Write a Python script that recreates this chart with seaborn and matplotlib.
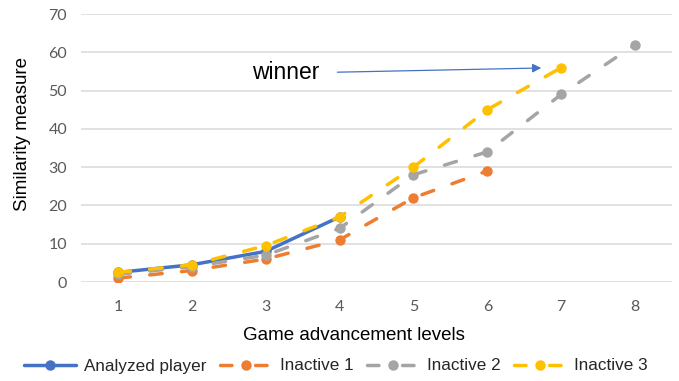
import matplotlib
matplotlib.use("Agg")
import matplotlib.pyplot as plt
import seaborn as sns
import pandas as pd

# Similarity per game level for each player
levels = [1, 2, 3, 4, 5, 6, 7, 8]
analyzed_player = [2.5, 4.5, 8, 17]
inactive_1 = [1, 3, 6, 11, 22, 29]
inactive_2 = [2, 4, 7, 14, 28, 34, 49, 62]
inactive_3 = [2.5, 4.5, 9.5, 17, 30, 45, 56]

series_names = ["Analyzed player", "Inactive 1", "Inactive 2", "Inactive 3"]
series_values = [analyzed_player, inactive_1, inactive_2, inactive_3]
colors = ["#4472C4", "#ED7D31", "#A5A5A5", "#FFC000"]
y_ticks = [0, 10, 20, 30, 40, 50, 60, 70]

rows = []
for name, vals in zip(series_names, series_values):
    for lvl, v in zip(levels, vals):
        rows.append({"level": lvl, "value": v, "series": name})
df = pd.DataFrame(rows)

sns.set_theme(style="white")
plt.rcParams["font.family"] = ["Liberation Sans", "DejaVu Sans"]

fig = plt.figure(figsize=(6.79, 3.81), dpi=100)
ax = fig.add_axes([81 / 679, 1 - 282 / 381, 591 / 679, 268 / 381])

dash = (3.6, 5.6)
sns.lineplot(
    data=df, x="level", y="value", hue="series", style="series",
    hue_order=series_names, style_order=series_names,
    palette=dict(zip(series_names, colors)),
    dashes={"Analyzed player": "", "Inactive 1": dash,
            "Inactive 2": dash, "Inactive 3": dash},
    markers={n: "o" for n in series_names},
    linewidth=2.5, markersize=7.5, markeredgewidth=0,
    dash_capstyle="round", solid_capstyle="round",
    ax=ax, legend=True, zorder=3,
)

ax.set_xlim(0.5, 8.5)
ax.set_ylim(0, 70)
ax.set_xticks(levels)
ax.set_xticklabels([str(l) for l in levels])
ax.set_yticks(y_ticks)
ax.set_yticklabels([str(t) for t in y_ticks])
ax.grid(axis="y", color="#D9D9D9", linewidth=1.1, zorder=0)
ax.grid(axis="x", visible=False)
for s in ax.spines.values():
    s.set_visible(False)
ax.tick_params(axis="both", length=0, labelcolor="#595959", labelsize=11.5)
ax.tick_params(axis="x", pad=13)
ax.tick_params(axis="y", pad=10)
for lbl in ax.get_xticklabels() + ax.get_yticklabels():
    lbl.set_fontfamily(["Lato", "DejaVu Sans"])

ax.set_xlabel("Game advancement levels", fontsize=13.5, color="black")
ax.xaxis.label.set_va("center")
ax.xaxis.set_label_coords(0.462, -0.198)
ax.set_ylabel("Similarity measure", fontsize=13.5, color="black")
ax.yaxis.label.set_va("center")
ax.yaxis.set_label_coords(-0.0998, 0.552)

# Arrow pointing at the best performer
ax.annotate("", xy=(6.73, 55.9), xytext=(3.97, 54.8),
            arrowprops=dict(arrowstyle="-|>", color="#4472C4", lw=0.9,
                            mutation_scale=13, shrinkA=0, shrinkB=0))
ax.text(3.73, 54.8, "winner", fontsize=16.5, ha="right", va="center",
        color="black")

handles, labels = ax.get_legend_handles_labels()
for h, name in zip(handles, labels):
    h.set_dash_capstyle("round")
    h.set_solid_capstyle("round")
    if name != "Analyzed player":
        # short dash on each side of the marker in the legend key
        h.set_dashes((3.3, 6.8))
ax.get_legend().remove()
fig.legend(handles, labels, loc="center", bbox_to_anchor=(0.495, 1 - 366 / 381),
           ncol=4, frameon=False, fontsize=12.3, handlelength=3.0,
           handletextpad=0.5, columnspacing=0.8, borderaxespad=0)

fig.savefig("out.png", dpi=100)
